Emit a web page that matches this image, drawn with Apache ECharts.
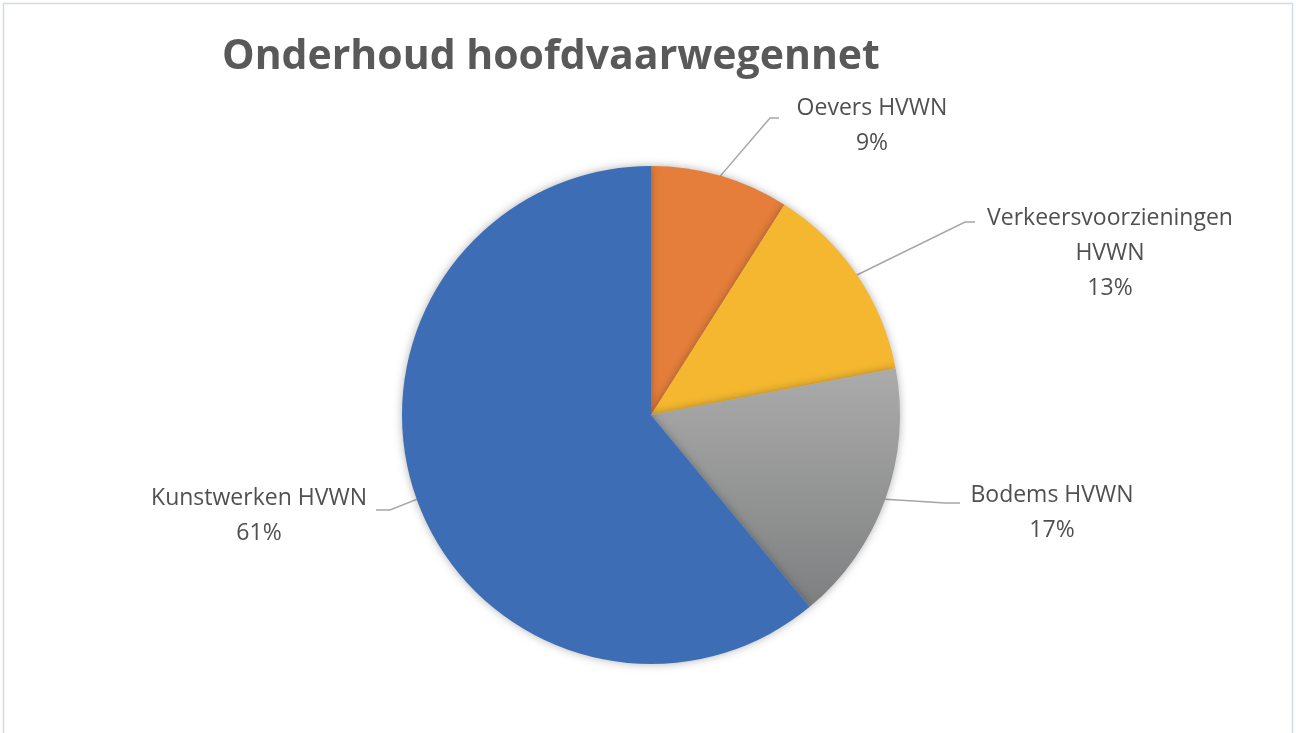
<!DOCTYPE html>
<html>
<head>
<meta charset="utf-8">
<script src="https://cdn.jsdelivr.net/npm/echarts@6/dist/echarts.min.js"></script>
<style>
  html, body { margin: 0; padding: 0; background: #fff; }
  #main { width: 1296px; height: 733px; }
</style>
</head>
<body>
<div id="main"></div>
<script>
var categories = ['Oevers HVWN', 'Verkeersvoorzieningen HVWN', 'Bodems HVWN', 'Kunstwerken HVWN'];
var labelNames = ['Oevers HVWN', 'Verkeersvoorzieningen\nHVWN', 'Bodems HVWN', 'Kunstwerken HVWN'];
var shares = [9, 13, 17, 61];
var colors = ['#E47E3A', '#F4B72F', null, '#3D6EB5'];

// label centres and the bend / end of each leader line
var labelPos = [[872, 126], [1110, 253], [1052, 513], [259, 516]];
var leaderBend = [[[770, 118], [779, 118]], [[965, 222], [975, 222]], [[945, 503], [960, 503]], [[390, 510], [376, 510]]];

var grayFill = {
    type: 'linear', x: 0, y: 0, x2: 0, y2: 1,
    colorStops: [
        { offset: 0, color: '#ABABAB' },
        { offset: 1, color: '#7E7F80' }
    ]
};

var pieData = [];
for (var i = 0; i < categories.length; i++) {
    pieData.push({
        name: categories[i],
        value: shares[i],
        itemStyle: { color: colors[i] || grayFill }
    });
}

var myChart = echarts.init(document.getElementById('main'), null, { renderer: 'canvas' });

var option = {
    backgroundColor: '#fff',
    title: {
        text: 'Onderhoud hoofdvaarwegennet',
        left: 217,
        top: 32,
        textStyle: {
            fontFamily: 'Open Sans',
            fontWeight: 'bold',
            fontSize: 41,
            color: '#595959'
        }
    },
    graphic: [{
        type: 'rect',
        shape: { x: 3.5, y: 3.5, width: 1289, height: 740 },
        style: { fill: 'none', stroke: '#d3dae8', lineWidth: 1.5 },
        silent: true
    }],
    series: [{
        type: 'pie',
        center: [651, 415],
        radius: 249,
        startAngle: 90,
        clockwise: true,
        data: pieData,
        itemStyle: {
            shadowBlur: 8,
            shadowColor: 'rgba(0,0,0,0.3)'
        },
        label: {
            show: true,
            formatter: function (p) {
                return labelNames[p.dataIndex] + '\n' + p.value + '%';
            },
            fontFamily: 'Open Sans',
            fontSize: 23,
            lineHeight: 35,
            color: '#505050',
            align: 'center'
        },
        labelLine: {
            show: true,
            length: 40,
            length2: 12,
            lineStyle: { color: '#a6a6a6', width: 1.5 }
        },
        labelLayout: function (params) {
            var i = params.dataIndex;
            var p = labelPos[i];
            var res = {
                x: p[0],
                y: p[1],
                align: 'center',
                verticalAlign: 'middle'
            };
            if (params.labelLinePoints) {
                res.labelLinePoints = [params.labelLinePoints[0], leaderBend[i][0], leaderBend[i][1]];
            }
            return res;
        },
        emphasis: { disabled: true }
    }]
};

myChart.setOption(option);
</script>
</body>
</html>
